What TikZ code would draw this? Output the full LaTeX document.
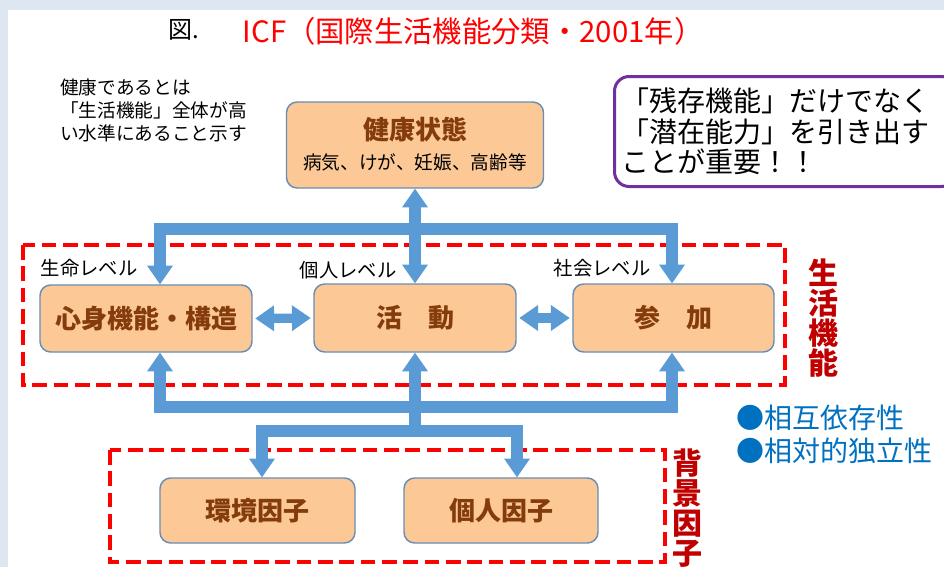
\documentclass[tikz,border=0pt]{standalone}
\usepackage{fontspec}
\setmainfont{Noto Sans CJK JP}
\usepackage{tikz}
\usetikzlibrary{positioning}
\usetikzlibrary{arrows.meta}

\definecolor{flowblue}{HTML}{5B9BD5}
\definecolor{boxfill}{HTML}{FCC996}
\definecolor{boxedge}{HTML}{6A8DB5}
\definecolor{boxtext}{HTML}{843C0C}
\definecolor{darkred}{HTML}{C00000}
\definecolor{notepurple}{HTML}{7030A0}
\definecolor{dotblue}{HTML}{0070C0}
\definecolor{bgband}{HTML}{DEE7F1}

\begin{document}
\begin{tikzpicture}[x=0.75pt, y=-0.75pt,
    box/.style={draw=boxedge, line width=1.1pt, fill=boxfill, rounded corners=8pt, inner sep=0pt},
    boxtxt/.style={text=boxtext, font=\bfseries\fontsize{19.5}{22}\selectfont},
    flow/.style={draw=flowblue, line width=9pt, line join=miter},
    zone/.style={draw=red, line width=3pt, dash pattern=on 11pt off 5pt},
    lvl/.style={font=\fontsize{14.5}{16}\selectfont},
    side/.style={text=darkred, font=\bfseries\fontsize{22.5}{22.5}\selectfont, align=center},
    bt/.tip={Triangle[width=19.5pt,length=14pt,line width=0pt]}]
  \useasboundingbox (0,0) rectangle (944,567);
  \clip (0,0) rectangle (944,567);
  \fill[bgband] (0,0) rectangle (944,567);
  \fill[white] (8,10) rectangle (944,567);

  % title
  \node[font=\fontsize{18}{18}\selectfont] (zu) at (184,30) {図.};
  \node[anchor=west, text=red, font=\fontsize{22}{22}\selectfont] (title) at (238,31) {ICF（国際生活機能分類・2001年）};

  % notes
  \node[anchor=north west, align=left, inner sep=0pt, font=\fontsize{14}{17.25}\selectfont] (note) at (60,79)
    {健康であるとは\\「生活機能」全体が高\\い水準にあること示す};
  \node[anchor=north west, draw=notepurple, line width=2.25pt, rounded corners=11pt, inner xsep=5pt, inner ysep=7pt,
    text width=246pt, minimum height=82.5pt, align=left, font=\fontsize{21}{23}\selectfont] (remain) at (613,75)
    {\raisebox{-2pt}{「残存機能」だけでなく}\\\raisebox{-2pt}{「潜在能力」を引き出す}\\\raisebox{-2pt}{ことが重要！！}};

  % zones
  \draw[zone] (23,245) rectangle (785,385);
  \draw[zone] (110,450) rectangle (665,562);
  \node[side] (seikatsu) at (823,318) {生\\活\\機\\能};
  \node[side] (haikei) at (687,508) {背\\景\\因\\子};

  % boxes
  \node[box, minimum width=192.75pt, minimum height=64.5pt] (kenko) at (415,145) {};
  \node[boxtxt] (kenkoA) at (415,130) {健康状態};
  \node[font=\fontsize{14}{16}\selectfont] (kenkoB) at (415,162) {病気、けが、妊娠、高齢等};
  \node[box, boxtxt, minimum width=159pt, minimum height=50.25pt] (shin) at (146,318.5) {心身機能・構造};
  \node[box, boxtxt, minimum width=151.5pt, minimum height=51pt] (katsudo) at (415,318) {活　動};
  \node[box, boxtxt, minimum width=150.75pt, minimum height=51pt] (sanka) at (673.5,318) {参　加};
  \node[box, boxtxt, minimum width=146.25pt, minimum height=48.75pt] (kankyo) at (257.5,510.5) {環境因子};
  \node[box, boxtxt, minimum width=145.5pt, minimum height=48.75pt] (kojin) at (501,510.5) {個人因子};

  % levels
  \node[lvl] (lvlA) at (89,268) {生命レベル};
  \node[lvl] (lvlB) at (348,270) {個人レベル};
  \node[lvl] (lvlC) at (602,268) {社会レベル};

  \node[anchor=west, text=dotblue, font=\fontsize{21}{21}\selectfont] (dotA) at (732,418) {●相互依存性};
  \node[anchor=west, text=dotblue, font=\fontsize{21}{21}\selectfont] (dotB) at (732,451) {●相対的独立性};

  % arrows
  \coordinate (upL) at (160,229);
  \coordinate (upR) at (672,229);
  \coordinate (dnL) at (160,407);
  \coordinate (dnR) at (672,407);
  \coordinate (bgL) at (262,431);
  \coordinate (bgR) at (517,431);
  \draw[flow, bt-bt] (shin.north -| upL) -- (upL) -- (upR) -- (sanka.north -| upR);
  \draw[flow, bt-bt] (kenko.south) -- (katsudo.north);
  \draw[flow, bt-bt] (shin.south -| dnL) -- (dnL) -- (dnR) -- (sanka.south -| dnR);
  \draw[flow, bt-] (katsudo.south) -- (katsudo.south |- bgL);
  \draw[flow, bt-bt] (kankyo.north -| bgL) -- (bgL) -- (bgR) -- (kojin.north -| bgR);
  \draw[flow, line width=7pt, bt-bt, shorten <=2pt, shorten >=2pt] (shin.east) -- (katsudo.west);
  \draw[flow, line width=7pt, bt-bt, shorten <=2pt, shorten >=2pt] (katsudo.east) -- (sanka.west);
\end{tikzpicture}
\end{document}
